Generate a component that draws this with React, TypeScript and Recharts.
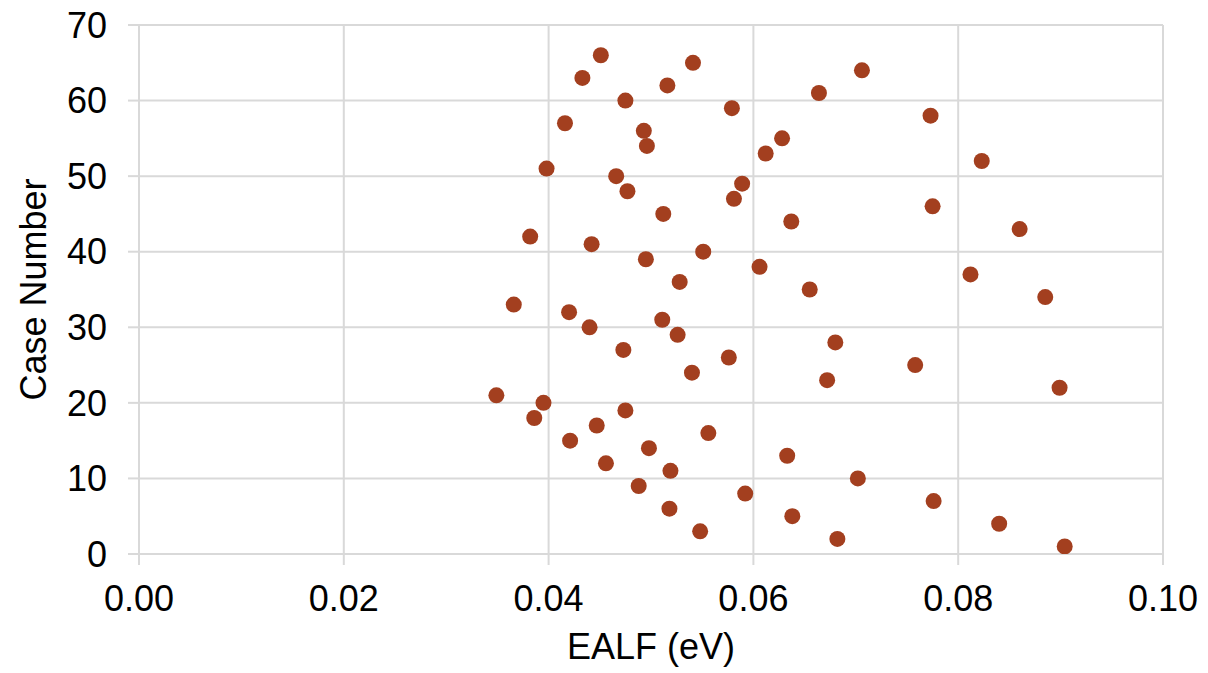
import { ScatterChart, Scatter, XAxis, YAxis, CartesianGrid } from 'recharts';

// EALF (eV) for each case
const ealf = [
  0.0904, 0.0682, 0.0548, 0.0840, 0.0638, 0.0518, 0.0776, 0.0592, 0.0488, 0.0702,
  0.0519, 0.0456, 0.0633, 0.0498, 0.0421, 0.0556, 0.0447, 0.0386, 0.0475, 0.0395,
  0.0349, 0.0899, 0.0672, 0.0540, 0.0758, 0.0576, 0.0473, 0.0680, 0.0526, 0.0440,
  0.0511, 0.0420, 0.0366, 0.0885, 0.0655, 0.0528, 0.0812, 0.0606, 0.0495, 0.0551,
  0.0442, 0.0382, 0.0860, 0.0637, 0.0512, 0.0775, 0.0581, 0.0477, 0.0589, 0.0466,
  0.0398, 0.0823, 0.0612, 0.0496, 0.0628, 0.0493, 0.0416, 0.0773, 0.0579, 0.0475,
  0.0664, 0.0516, 0.0433, 0.0706, 0.0541, 0.0451,
];
const caseNumbers = ealf.map((_, i) => i + 1);

const xTicks = [0, 0.02, 0.04, 0.06, 0.08, 0.1];
const yTicks = [0, 10, 20, 30, 40, 50, 60, 70];

const DOT = '#a33f1f';
const GRID = '#d9d9d9';
const FONT = 'Liberation Sans, Arial, sans-serif';

const data = ealf.map((x, i) => ({ x, y: caseNumbers[i] }));

const tickStyle = { fill: '#000', fontSize: 36, fontFamily: FONT };

export default function App() {
  return (
    <div style={{ position: 'absolute', left: 0, top: 0, background: '#fff' }}>
      <ScatterChart width={1208} height={673} margin={{ top: 25, right: 45, bottom: 0, left: 0 }}>
        <CartesianGrid stroke={GRID} strokeWidth={2} horizontalValues={yTicks} verticalValues={xTicks} />
        <XAxis
          type="number"
          dataKey="x"
          domain={[0, 0.1]}
          ticks={xTicks}
          tickFormatter={(v: number) => v.toFixed(2)}
          height={119}
          tickSize={11}
          tickMargin={20}
          tick={tickStyle}
          axisLine={{ stroke: GRID, strokeWidth: 2 }}
          tickLine={{ stroke: GRID, strokeWidth: 2 }}
          allowDataOverflow
          label={{ value: 'EALF (eV)', position: 'insideBottom', offset: 14, style: { fill: '#000', fontSize: 36, fontFamily: FONT } }}
        />
        <YAxis
          type="number"
          dataKey="y"
          domain={[0, 70]}
          ticks={yTicks}
          width={139}
          tickSize={11}
          tickMargin={21}
          tick={tickStyle}
          axisLine={{ stroke: GRID, strokeWidth: 2 }}
          tickLine={{ stroke: GRID, strokeWidth: 2 }}
          allowDataOverflow
          label={{ value: 'Case Number', angle: -90, position: 'insideLeft', offset: 33, style: { fill: '#000', fontSize: 36, fontFamily: FONT, textAnchor: 'middle' } }}
        />
        <Scatter
          data={data}
          isAnimationActive={false}
          shape={(p: any) => <circle cx={p.cx} cy={p.cy} r={8} fill={DOT} />}
        />
      </ScatterChart>
    </div>
  );
}
